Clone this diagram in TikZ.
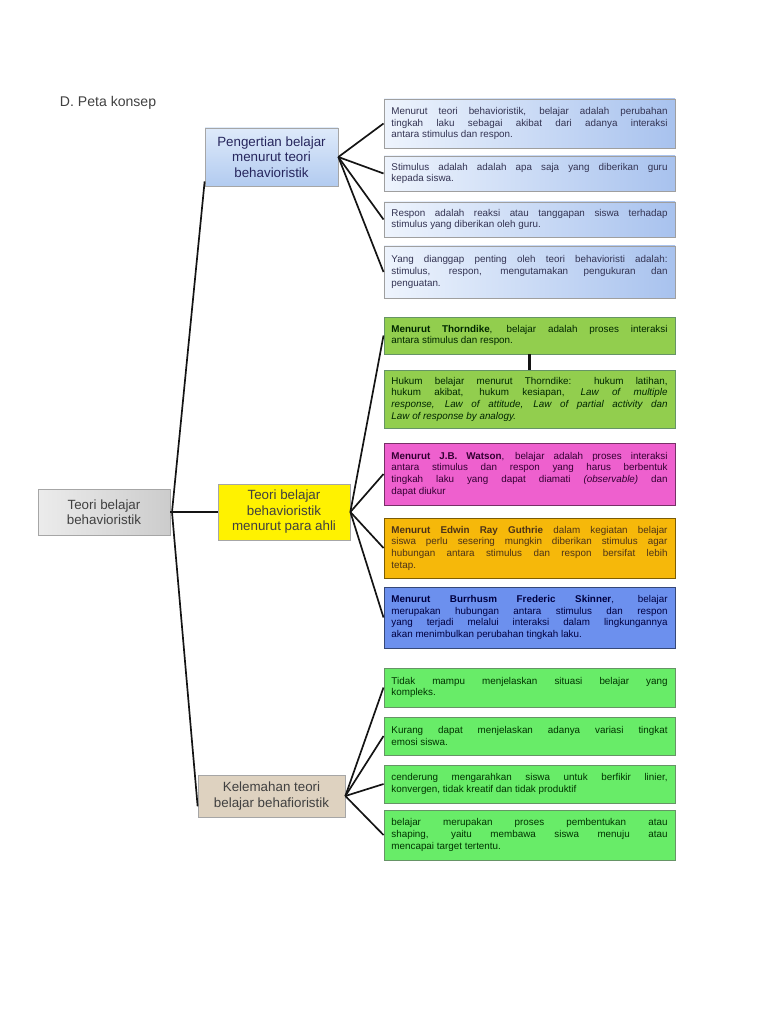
\documentclass[tikz,border=0pt]{standalone}
\usepackage{fontspec}
\setmainfont{Liberation Sans}
\usepackage{xcolor}
\usetikzlibrary{shadows}
\definecolor{garis}{RGB}{20,20,20}
\definecolor{biruA}{RGB}{238,244,253}
\definecolor{biruB}{RGB}{168,194,238}
\definecolor{biruAtas}{RGB}{222,234,250}
\definecolor{biruBawah}{RGB}{178,203,240}
\definecolor{hijauT}{RGB}{146,206,78}
\definecolor{hijauK}{RGB}{104,236,104}
\definecolor{magenta}{RGB}{238,96,206}
\definecolor{emas}{RGB}{246,184,10}
\definecolor{biruS}{RGB}{108,144,238}
\definecolor{krem}{RGB}{222,210,192}

\begin{document}
\begin{tikzpicture}[x=0.025cm,y=-0.025cm,
  every node/.style={font=\fontsize{9.5}{11}\selectfont},
  induk/.style={draw=gray!70,line width=.5pt,align=center,text=black!75,
    minimum width=#1*0.025cm,drop shadow={shadow xshift=.8pt,shadow yshift=-.8pt,opacity=.25}},
  isi/.style={draw=gray!75,line width=.5pt,align=justify,text width=6.9cm,inner xsep=0.19cm,
    font=\fontsize{7}{8.3}\selectfont,minimum height=#1*0.025cm,
    drop shadow={shadow xshift=.8pt,shadow yshift=-.8pt,opacity=.25}},
  biru/.style={left color=biruA,right color=biruB,text=blue!15!black!80},
  cabang/.style={garis,line width=1.2pt}]
\useasboundingbox (0,0) rectangle (768,1024);

\node[anchor=west,font=\fontsize{10}{12}\selectfont,text=black!75] (judul) at (55,103) {D. Peta konsep};

\node[induk=132,minimum height=46*0.025cm,left color=gray!15,right color=gray!40] (akar) at (104,512) {Teori belajar\\behavioristik};
\node[induk=133,minimum height=58*0.025cm,top color=biruAtas,bottom color=biruBawah,text=blue!25!black!85] (pengertian) at (271.5,157) {Pengertian belajar\\menurut teori\\behavioristik};
\node[induk=132,minimum height=56*0.025cm,fill=yellow,text=black!75] (ahli) at (284,512) {Teori belajar\\behavioristik\\menurut para ahli};
\node[induk=147,minimum height=42*0.025cm,fill=krem,text=black!75] (kelemahan) at (271.5,796) {Kelemahan teori\\belajar behafioristik};

\node[isi=49,biru] (p1) at (529.5,123.5) {Menurut teori behavioristik, belajar adalah perubahan\linebreak tingkah laku sebagai akibat dari adanya interaksi\linebreak antara stimulus dan respon.};
\node[isi=35,biru] (p2) at (529.5,173.5) {Stimulus adalah adalah apa saja yang diberikan guru\linebreak kepada siswa.};
\node[isi=35,biru] (p3) at (529.5,219.5) {Respon adalah reaksi atau tanggapan siswa terhadap\linebreak stimulus yang diberikan oleh guru.};
\node[isi=52,biru] (p4) at (529.5,272) {Yang dianggap penting oleh teori behavioristi adalah:\linebreak stimulus, respon, mengutamakan pengukuran dan\linebreak penguatan.};

\node[isi=37,fill=hijauT,draw=green!30!black!60,text=green!15!black] (thorndike) at (529.5,335.5) {\textbf{Menurut Thorndike}, belajar adalah proses interaksi\linebreak antara stimulus dan respon.};
\node[isi=58,fill=hijauT,draw=green!30!black!60,text=green!15!black] (hukum) at (529.5,399) {Hukum belajar menurut Thorndike: hukum latihan,\linebreak hukum akibat, hukum kesiapan, \emph{Law of multiple\linebreak response, Law of attitude, Law of partial activity dan\linebreak Law of response by analogy.}};
\node[isi=62,fill=magenta,draw=magenta!50!black,text=violet!40!black] (watson) at (529.5,474) {\textbf{Menurut J.B. Watson}, belajar adalah proses interaksi\linebreak antara stimulus dan respon yang harus berbentuk\linebreak tingkah laku yang dapat diamati \emph{(observable)} dan\linebreak dapat diukur};
\node[isi=60,fill=emas,draw=emas!50!black,text=brown!40!black] (guthrie) at (529.5,548) {\textbf{Menurut Edwin Ray Guthrie} dalam kegiatan belajar\linebreak siswa perlu sesering mungkin diberikan stimulus agar\linebreak hubungan antara stimulus dan respon bersifat lebih\linebreak tetap.};
\node[isi=61,fill=biruS,draw=biruS!50!black,text=blue!25!black] (skinner) at (529.5,617.5) {\textbf{Menurut Burrhusm Frederic Skinner}, belajar\linebreak merupakan hubungan antara stimulus dan respon\linebreak yang terjadi melalui interaksi dalam lingkungannya\linebreak akan menimbulkan perubahan tingkah laku.};

\node[isi=39,fill=hijauK,draw=green!30!black!60,text=green!20!black] (k1) at (529.5,687.5) {Tidak mampu menjelaskan situasi belajar yang\linebreak kompleks.};
\node[isi=38,fill=hijauK,draw=green!30!black!60,text=green!20!black] (k2) at (529.5,736) {Kurang dapat menjelaskan adanya variasi tingkat\linebreak emosi siswa.};
\node[isi=38,fill=hijauK,draw=green!30!black!60,text=green!20!black] (k3) at (529.5,784) {cenderung mengarahkan siswa untuk berfikir linier,\linebreak konvergen, tidak kreatif dan tidak produktif};
\node[isi=50,fill=hijauK,draw=green!30!black!60,text=green!20!black] (k4) at (529.5,835) {belajar merupakan proses pembentukan atau\linebreak shaping, yaitu membawa siswa menuju atau\linebreak mencapai target tertentu.};

\coordinate (simpul) at (172,512);
\draw[cabang] (akar.east) -- (ahli.west);
\draw[cabang] (simpul) -- (pengertian.200);
\draw[cabang] (simpul) -- (kelemahan.188);
\foreach \t in {p1,p2,p3,p4} \draw[cabang] (pengertian.east) -- (\t.west);
\foreach \t in {thorndike,watson,guthrie,skinner} \draw[cabang] (ahli.east) -- (\t.west);
\foreach \t in {k1,k2,k3,k4} \draw[cabang] (kelemahan.east) -- (\t.west);
\draw[cabang,line width=2pt] (thorndike.south) -- (hukum.north);
\end{tikzpicture}
\end{document}
